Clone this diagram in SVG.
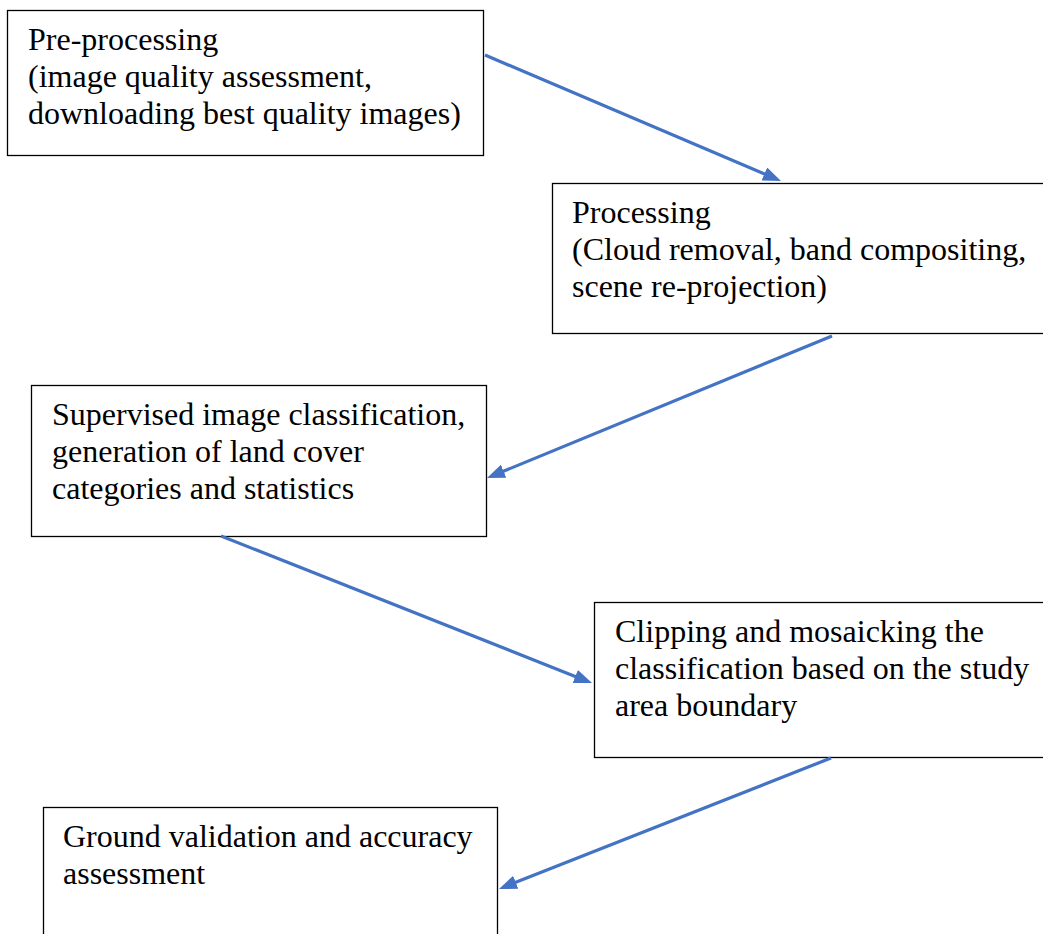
<svg xmlns="http://www.w3.org/2000/svg" width="1043" height="934" viewBox="0 0 1043 934">
  <style>
    .box { fill: #ffffff; stroke: #000000; stroke-width: 1.3; }
    .lbl { font-family: "Liberation Serif", "Times New Roman", serif; font-size: 32px; fill: #000000; }
    .conn { stroke: #4472C4; stroke-width: 3.2; fill: none; marker-end: url(#arrow); }
  </style>
  <defs>
    <marker id="arrow" markerUnits="userSpaceOnUse" markerWidth="18" markerHeight="14" viewBox="0 0 18 14" refX="4" refY="7" orient="auto">
      <path d="M0,0 L18,7 L0,14 z" fill="#4472C4"/>
    </marker>
  </defs>
  <rect width="1043" height="934" fill="#ffffff"/>
  <g id="node-preprocessing">
    <rect class="box" x="7.5" y="10.5" width="476" height="145"/>
    <text class="lbl" x="28" y="50">Pre-processing</text>
    <text class="lbl" x="28" y="87">(image quality assessment,</text>
    <text class="lbl" x="28" y="124">downloading best quality images)</text>
  </g>
  <g id="node-processing">
    <rect class="box" x="552.5" y="183.5" width="500" height="150"/>
    <text class="lbl" x="572" y="223">Processing</text>
    <text class="lbl" x="572" y="260">(Cloud removal, band compositing,</text>
    <text class="lbl" x="572" y="297">scene re-projection)</text>
  </g>
  <g id="node-classification">
    <rect class="box" x="31.5" y="385.5" width="455" height="151"/>
    <text class="lbl" x="52" y="425">Supervised image classification,</text>
    <text class="lbl" x="52" y="462">generation of land cover</text>
    <text class="lbl" x="52" y="499">categories and statistics</text>
  </g>
  <g id="node-clipping">
    <rect class="box" x="594.5" y="602.5" width="460" height="155"/>
    <text class="lbl" x="615" y="642">Clipping and mosaicking the</text>
    <text class="lbl" x="615" y="679">classification based on the study</text>
    <text class="lbl" x="615" y="716">area boundary</text>
  </g>
  <g id="node-validation">
    <rect class="box" x="43.5" y="807.5" width="454" height="140"/>
    <text class="lbl" x="63" y="847">Ground validation and accuracy</text>
    <text class="lbl" x="63" y="884">assessment</text>
  </g>
  <g id="connectors">
    <line class="conn" x1="485" y1="55" x2="768.1" y2="175.5"/>
    <line class="conn" x1="832" y1="336" x2="499.9" y2="472.7"/>
    <line class="conn" x1="221" y1="536" x2="579" y2="677.9"/>
    <line class="conn" x1="831" y1="758" x2="512" y2="883.8"/>
  </g>
</svg>
